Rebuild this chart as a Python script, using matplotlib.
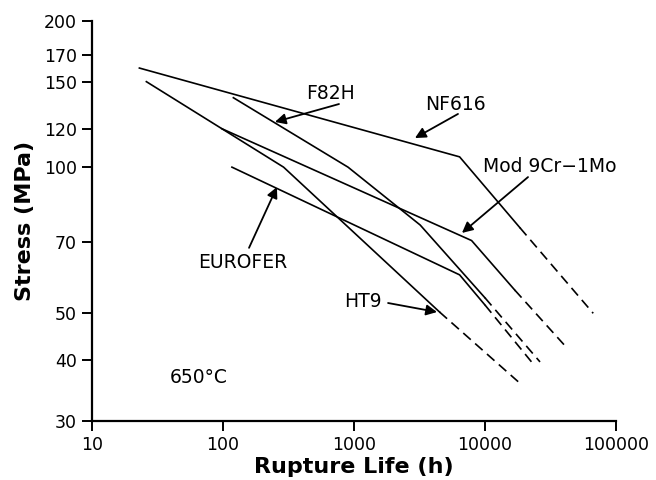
import matplotlib
matplotlib.use("Agg")
import matplotlib.pyplot as plt
from matplotlib.ticker import FixedLocator, FixedFormatter, NullLocator

# Rupture life (h) vs stress (MPa) at 650 C
# solid = measured part, extrap = dashed extrapolation
nf616_life = [23, 6400, 18500]
nf616_stress = [160, 105, 75]
nf616_extrap_life = [18500, 67000]
nf616_extrap_stress = [75, 50]

f82h_life = [120, 900, 3200, 10000]
f82h_stress = [139, 100, 76, 53.8]
f82h_extrap_life = [10000, 26300]
f82h_extrap_stress = [53.8, 39.7]

mod9cr_life = [98, 7900, 16900]
mod9cr_stress = [120, 70.6, 55.8]
mod9cr_extrap_life = [16900, 42300]
mod9cr_extrap_stress = [55.8, 42.4]

eurofer_life = [117, 6400, 10000]
eurofer_stress = [100, 60, 52]
eurofer_extrap_life = [10000, 24100]
eurofer_extrap_stress = [52, 38.9]

ht9_life = [26, 290, 4500]
ht9_stress = [150, 100, 50.3]
ht9_extrap_life = [4500, 19100]
ht9_extrap_stress = [50.3, 35.6]

x_ticks = [10, 100, 1000, 10000, 100000]
y_ticks = [30, 40, 50, 70, 100, 120, 150, 170, 200]

plt.rcParams["font.family"] = ["DejaVu Sans"]

fig = plt.figure(figsize=(6.56, 4.8), dpi=100)
ax = fig.add_axes([92 / 656, 1 - 421 / 480, 524 / 656, 400 / 480])

lw = 1.2
series = [
    (nf616_life, nf616_stress, nf616_extrap_life, nf616_extrap_stress),
    (f82h_life, f82h_stress, f82h_extrap_life, f82h_extrap_stress),
    (mod9cr_life, mod9cr_stress, mod9cr_extrap_life, mod9cr_extrap_stress),
    (eurofer_life, eurofer_stress, eurofer_extrap_life, eurofer_extrap_stress),
    (ht9_life, ht9_stress, ht9_extrap_life, ht9_extrap_stress),
]
for life, stress, ex_life, ex_stress in series:
    ax.plot(life, stress, color="black", lw=lw, solid_joinstyle="miter")
    ax.plot(ex_life, ex_stress, color="black", lw=lw, dashes=(6, 3.5))

ax.set_xscale("log")
ax.set_yscale("log")
ax.set_xlim(10, 100000)
ax.set_ylim(30, 200)

ax.xaxis.set_major_locator(FixedLocator(x_ticks))
ax.xaxis.set_major_formatter(FixedFormatter([str(v) for v in x_ticks]))
ax.xaxis.set_minor_locator(NullLocator())
ax.yaxis.set_major_locator(FixedLocator(y_ticks))
ax.yaxis.set_major_formatter(FixedFormatter([str(v) for v in y_ticks]))
ax.yaxis.set_minor_locator(NullLocator())

for side in ["top", "right"]:
    ax.spines[side].set_visible(False)
for side in ["left", "bottom"]:
    ax.spines[side].set_linewidth(1.6)
ax.tick_params(axis="both", length=7, width=1.4, labelsize=12.5, pad=4)

ax.set_xlabel("Rupture Life (h)", fontsize=16, fontweight="bold", labelpad=2)
ax.set_ylabel("Stress (MPa)", fontsize=16, fontweight="bold", labelpad=6)

# labels and arrows (text position, arrow tail, arrow tip)
notes = [
    ("F82H", (667, 142), (768, 134.9), (249, 123.9)),
    ("NF616", (5900, 134.3), (6220, 128.7), (2920, 114.8)),
    ("Mod 9Cr\u22121Mo", (31300, 100.5), (21300, 95.4), (6670, 73.2)),
    ("EUROFER", (142, 63.5), (158, 68.2), (258, 91.0)),
    ("HT9", (1172, 52.8), (1820, 52.5), (4300, 50.3)),
]
for label, txt, tail, tip in notes:
    ax.text(txt[0], txt[1], label, fontsize=13.5, ha="center", va="center")
    ax.annotate(
        "",
        xy=tip,
        xytext=tail,
        arrowprops=dict(arrowstyle="-|>", color="black", lw=1.3,
                        mutation_scale=16, shrinkA=0, shrinkB=0),
    )

ax.text(65.6, 36.8, "650\u00b0C", fontsize=13.5, ha="center", va="center")

fig.savefig("out.png", dpi=100)
